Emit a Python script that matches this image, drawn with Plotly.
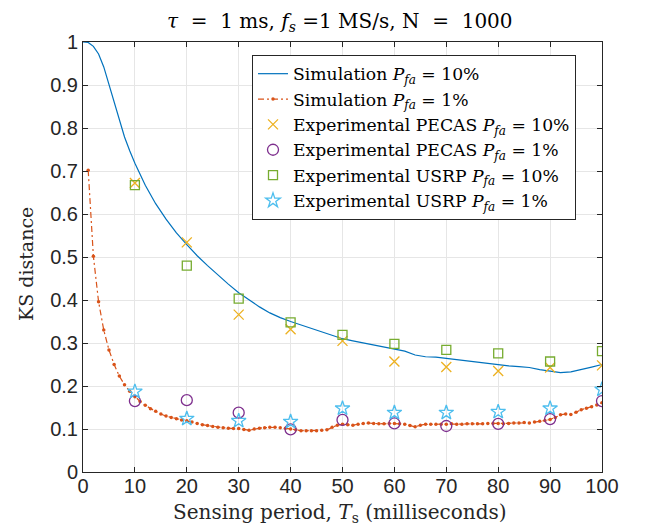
import plotly.graph_objects as go

# ---------------- data ----------------
sim10_x = [0, 1, 2, 3, 4, 5, 6, 7, 8, 9, 10, 12, 14, 16, 18, 20, 22, 24, 26, 28, 30,
           32, 34, 36, 38, 40, 42, 44, 46, 48, 50, 52, 54, 56, 58, 60, 62, 64, 66, 68,
           70, 72, 74, 76, 78, 80, 82, 84, 86, 88, 90, 92, 94, 96, 98, 100]
sim10_y = [1.0, 0.999, 0.99, 0.972, 0.942, 0.900, 0.857, 0.816, 0.779, 0.747, 0.718,
           0.667, 0.624, 0.588, 0.556, 0.529, 0.503, 0.480, 0.458, 0.437, 0.417,
           0.400, 0.384, 0.370, 0.359, 0.350, 0.342, 0.334, 0.326, 0.317, 0.310,
           0.305, 0.300, 0.296, 0.291, 0.286, 0.281, 0.272, 0.268, 0.267, 0.264,
           0.261, 0.258, 0.255, 0.252, 0.249, 0.247, 0.245, 0.243, 0.238, 0.235,
           0.231, 0.233, 0.238, 0.244, 0.250]

sim1_x = list(range(1, 101))
sim1_y = [0.702, 0.502, 0.396, 0.330, 0.284, 0.250, 0.223, 0.203, 0.188, 0.175,
          0.164, 0.155, 0.147, 0.141, 0.135, 0.130, 0.127, 0.124, 0.121, 0.119,
          0.116, 0.113, 0.110, 0.108, 0.106, 0.104, 0.103, 0.102, 0.101, 0.101,
          0.099, 0.097, 0.100, 0.102, 0.103, 0.104, 0.104, 0.103, 0.102, 0.100,
          0.098, 0.096, 0.096, 0.096, 0.096, 0.097, 0.098, 0.104, 0.109, 0.111,
          0.110, 0.109, 0.111, 0.113, 0.114, 0.113, 0.112, 0.112, 0.113, 0.113,
          0.112, 0.111, 0.108, 0.105, 0.109, 0.111, 0.111, 0.111, 0.111, 0.111,
          0.112, 0.111, 0.111, 0.112, 0.112, 0.112, 0.112, 0.113, 0.113, 0.113,
          0.112, 0.113, 0.114, 0.114, 0.115, 0.114, 0.116, 0.118, 0.120, 0.122,
          0.127, 0.133, 0.135, 0.134, 0.139, 0.145, 0.148, 0.152, 0.156, 0.161]

exp_x = [10, 20, 30, 40, 50, 60, 70, 80, 90, 100]
pecas10 = [0.672, 0.534, 0.366, 0.332, 0.305, 0.257, 0.244, 0.235, 0.243, 0.248]
pecas1 = [0.165, 0.167, 0.138, 0.099, 0.121, 0.113, 0.107, 0.112, 0.123, 0.165]
usrp10 = [0.667, 0.480, 0.403, 0.348, 0.319, 0.298, 0.284, 0.276, 0.257, 0.281]
usrp1 = [0.187, 0.124, 0.119, 0.117, 0.148, 0.138, 0.138, 0.140, 0.148, 0.192]

x_ticks = [0, 10, 20, 30, 40, 50, 60, 70, 80, 90, 100]
y_ticks = [0, 0.1, 0.2, 0.3, 0.4, 0.5, 0.6, 0.7, 0.8, 0.9, 1]
y_tick_text = ["0", "0.1", "0.2", "0.3", "0.4", "0.5", "0.6", "0.7", "0.8", "0.9", "1"]

WSERIF = "DejaVu Serif, serif"
SANS = "Liberation Sans, Arial, sans-serif"
PFA = "<i>P</i><sub><i>fa</i></sub>"

# page body has an 8px default margin; compensate so the figure fills the window
OFF = 8
PAGE_W, PAGE_H = 645, 525
# plot-area geometry in screen pixels
L, R, T, B = 83, 602, 42, 472
W, H = R - L, B - T


def px2paper_x(px):
    return (px - L) / W


def px2paper_y(py):
    return (B - py) / H


fig = go.Figure()
fig.add_trace(go.Scatter(x=sim10_x, y=sim10_y, mode="lines",
                         line=dict(color="#0072BD", width=1.2),
                         name=f"Simulation {PFA} = 10%"))
fig.add_trace(go.Scatter(x=sim1_x, y=sim1_y, mode="lines+markers",
                         line=dict(color="#D95319", width=1.2, dash="6px,3px,2px,3px"),
                         marker=dict(size=3.5, color="#D95319"),
                         name=f"Simulation {PFA} = 1%"))
fig.add_trace(go.Scatter(x=exp_x, y=pecas10, mode="markers",
                         marker=dict(symbol="x-thin-open", size=10, color="#EDB120",
                                     line=dict(color="#EDB120", width=1.3)),
                         name=f"Experimental PECAS {PFA} = 10%"))
fig.add_trace(go.Scatter(x=exp_x, y=pecas1, mode="markers",
                         marker=dict(symbol="circle-open", size=11, color="#7E2F8E",
                                     line=dict(color="#7E2F8E", width=1.3)),
                         name=f"Experimental PECAS {PFA} = 1%"))
fig.add_trace(go.Scatter(x=exp_x, y=usrp10, mode="markers",
                         marker=dict(symbol="square-open", size=9, color="#77AC30",
                                     line=dict(color="#77AC30", width=1.3)),
                         name=f"Experimental USRP {PFA} = 10%"))
fig.add_trace(go.Scatter(x=exp_x, y=usrp1, mode="markers",
                         marker=dict(symbol="star-open", size=11, color="#4DBEEE",
                                     line=dict(color="#4DBEEE", width=1.3)),
                         name=f"Experimental USRP {PFA} = 1%"))

axis_common = dict(showline=True, linecolor="#262626", linewidth=1, mirror="ticks",
                   ticks="inside", ticklen=5, tickcolor="#262626", tickwidth=1,
                   showgrid=True, gridcolor="#e6e6e6", gridwidth=1, zeroline=False,
                   automargin=False,
                   tickfont=dict(family=SANS, size=20, color="#262626"))

fig.update_xaxes(range=[0, 100], tickvals=x_ticks, ticktext=[str(v) for v in x_ticks],
                 ticklabelstandoff=-4, **axis_common)
fig.update_yaxes(range=[0, 1], tickvals=y_ticks, ticktext=y_tick_text,
                 **axis_common)

annotations = [
    dict(text="Sensing period, <i>T</i><sub>s</sub> (milliseconds)",
         xref="paper", yref="paper", x=px2paper_x(340), y=px2paper_y(513),
         xanchor="center", yanchor="middle", showarrow=False,
         font=dict(family=WSERIF, size=20, color="#262626")),
    dict(text="KS distance", textangle=-90,
         xref="paper", yref="paper", x=px2paper_x(26), y=px2paper_y(264),
         xanchor="center", yanchor="middle", showarrow=False,
         font=dict(family=WSERIF, size=19, color="#262626")),
    dict(text="<i>τ</i>  =  1 ms, <i>f</i><sub><i>s</i></sub> =1 MS/s, N  =  1000",
         xref="paper", yref="paper", x=px2paper_x(340), y=px2paper_y(22),
         xanchor="center", yanchor="middle", showarrow=False,
         font=dict(family=WSERIF, size=20, color="black")),
]

fig.update_layout(
    width=PAGE_W - OFF, height=PAGE_H - OFF,
    margin=dict(l=L - OFF, r=PAGE_W - R, t=T - OFF, b=PAGE_H - B, autoexpand=False),
    plot_bgcolor="white", paper_bgcolor="white",
    annotations=annotations,
    legend=dict(x=px2paper_x(252), y=px2paper_y(55), xanchor="left", yanchor="top",
                bgcolor="white", bordercolor="#262626", borderwidth=1,
                font=dict(family=WSERIF, size=17.2, color="black"),
                itemwidth=30, tracegroupgap=0),
    showlegend=True,
)

fig.write_html("out.html")
